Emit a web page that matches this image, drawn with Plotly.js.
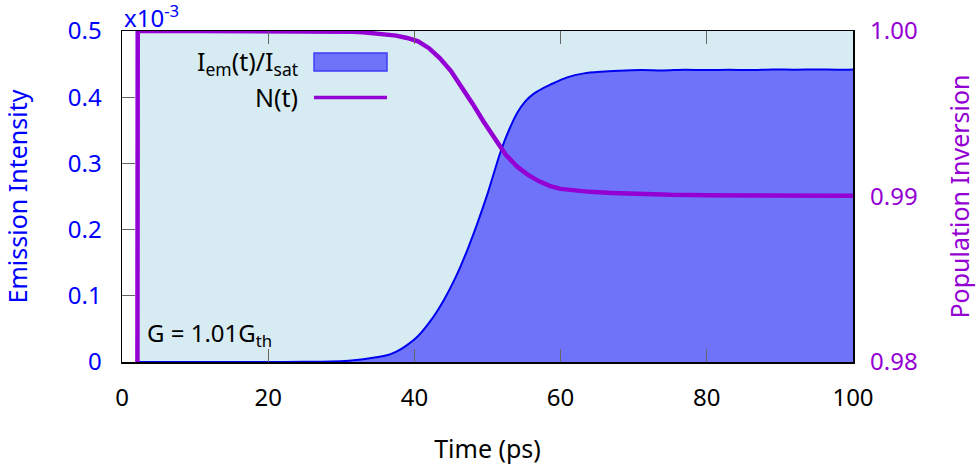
<!DOCTYPE html>
<html>
<head>
<meta charset="utf-8">
<script src="https://cdn.plot.ly/plotly-3.0.1.min.js"></script>
<style>
html,body{margin:0;padding:0;background:#fff;}
#chart{width:979px;height:471px;}
</style>
</head>
<body>
<div id="chart"></div>
<script>
// Light-blue background window (pump on), left axis units of 1e-3
const windowTime = [2.1, 100];
const windowLevel = [0.5, 0.5];

// Emission intensity I_em(t)/I_sat (x10^-3)
const timeI = [2.1, 10, 20, 25, 28.5, 31, 33, 35, 36.4, 37.6, 38.8, 40.4, 42.2, 44, 45.6, 47.2, 48.6, 50, 51.8, 53, 54.1, 55.2, 56.3, 57.5, 58.6, 60.9, 63.2, 65.5, 68, 71, 74, 77, 80, 83, 86, 89, 92, 95, 98, 100];
const intensity = [0, 0, 0.0001, 0.0003, 0.0008, 0.002, 0.004, 0.0075, 0.0106, 0.016, 0.024, 0.038, 0.062, 0.093, 0.127, 0.168, 0.209, 0.254, 0.318, 0.352, 0.377, 0.394, 0.405, 0.413, 0.419, 0.430, 0.436, 0.4385, 0.440, 0.441, 0.4405, 0.4415, 0.441, 0.4415, 0.441, 0.442, 0.4415, 0.442, 0.4415, 0.442];

// Population inversion N(t)
const timeN = [2.1, 2.15, 10, 20, 26, 28, 30, 31.5, 33, 34.5, 36, 37.5, 39, 40.5, 42, 43.5, 45, 46.5, 48, 49.5, 51, 52.5, 54, 55.5, 57, 58.5, 60, 62, 64, 67, 70, 75, 80, 90, 100];
const inversion = [0.975, 1.0, 1.0, 1.0, 0.99999, 0.99998, 0.99997, 0.99995, 0.99992, 0.99987, 0.99981, 0.99972, 0.99958, 0.99937, 0.99896, 0.99835, 0.99758, 0.99661, 0.99558, 0.9945, 0.99347, 0.99252, 0.99183, 0.99132, 0.99093, 0.99064, 0.99046, 0.99035, 0.99028, 0.99021, 0.99015, 0.9901, 0.99008, 0.99005, 0.99004];

// Axis ticks
const xTicks = [0, 20, 40, 60, 80, 100];
const yTicks = [0, 0.1, 0.2, 0.3, 0.4, 0.5];
const yTickText = ['0', '0.1', '0.2', '0.3', '0.4', '0.5'];
const y2Ticks = [0.98, 0.99, 1.00];
const y2TickText = ['0.98', '0.99', '1.00'];

const FONT = 'Noto Sans, Open Sans, sans-serif';
const BLUE = '#0000ff';
const PURPLE = '#9400d3';
const LIGHT = 'rgb(214,235,242)';
const FILL = 'rgb(110,115,250)';
const TS = 24;
const LS = 25;

const traces = [
  {x: windowTime, y: windowLevel, type: 'scatter', mode: 'lines', fill: 'tozeroy',
   fillcolor: LIGHT, line: {width: 0, color: LIGHT}, hoverinfo: 'skip', showlegend: false, yaxis: 'y'},
  {x: timeI, y: intensity, type: 'scatter', mode: 'lines', fill: 'tozeroy',
   fillcolor: FILL, line: {color: 'rgb(0,0,240)', width: 2, shape: 'spline', smoothing: 0.8}, showlegend: false, yaxis: 'y'},
  {x: timeN, y: inversion, type: 'scatter', mode: 'lines',
   line: {color: PURPLE, width: 4.5, shape: 'linear'}, showlegend: false, yaxis: 'y2'}
];

const layout = {
  width: 979, height: 471,
  margin: {l: 122, r: 126, t: 31, b: 109, pad: 0},
  paper_bgcolor: '#ffffff', plot_bgcolor: '#ffffff',
  font: {family: FONT, size: TS, color: '#000'},
  showlegend: false,
  xaxis: {
    range: [0, 100], tickvals: xTicks, ticktext: xTicks.map(String),
    ticks: 'inside', ticklen: 13, tickcolor: '#666', tickwidth: 1,
    showline: true, linecolor: '#000', linewidth: 1.5, mirror: 'ticks',
    showgrid: false, zeroline: false, ticklabelstandoff: 14,
    tickfont: {family: FONT, size: TS, color: '#000'},
    title: {text: 'Time (ps)', font: {family: FONT, size: LS, color: '#000'}, standoff: 28}
  },
  yaxis: {
    range: [0, 0.5], tickvals: yTicks, ticktext: yTickText,
    ticks: 'inside', ticklen: 13, tickcolor: '#666', tickwidth: 1,
    showline: true, linecolor: '#000', linewidth: 1.5, mirror: true,
    showgrid: false, zeroline: false, ticklabelstandoff: 14,
    tickfont: {family: FONT, size: TS, color: BLUE},
    title: {text: 'Emission Intensity', font: {family: FONT, size: LS, color: BLUE}, standoff: 36}
  },
  yaxis2: {
    range: [0.98, 1.0], overlaying: 'y', side: 'right',
    tickvals: y2Ticks, ticktext: y2TickText, ticks: '',
    showline: false, showgrid: false, zeroline: false, ticklabelstandoff: 16,
    tickfont: {family: FONT, size: TS, color: PURPLE},
    title: {text: 'Population Inversion', font: {family: FONT, size: LS, color: PURPLE}, standoff: 34}
  },
  shapes: [
    {type: 'rect', xref: 'paper', yref: 'paper', x0: 0.2627, x1: 0.3625, y0: 0.879, y1: 0.9335,
     fillcolor: FILL, line: {color: 'rgb(60,60,250)', width: 1.5}},
    {type: 'line', xref: 'paper', yref: 'paper', x0: 0.2627, x1: 0.3625, y0: 0.799, y1: 0.799,
     line: {color: PURPLE, width: 3.5}}
  ],
  annotations: [
    {xref: 'paper', yref: 'paper', x: 0.2435, y: 0.906, xanchor: 'right', yanchor: 'middle',
     text: 'I<sub>em</sub>(t)/I<sub>sat</sub>', showarrow: false, font: {family: FONT, size: LS, color: '#000'}},
    {xref: 'paper', yref: 'paper', x: 0.2435, y: 0.80, xanchor: 'right', yanchor: 'middle',
     text: 'N(t)', showarrow: false, font: {family: FONT, size: LS, color: '#000'}},
    {xref: 'paper', yref: 'paper', x: 0.0315, y: 0.085, xanchor: 'left', yanchor: 'middle',
     text: 'G = 1.01G<sub>th</sub>', showarrow: false, font: {family: FONT, size: TS, color: '#000'}},
    {xref: 'paper', yref: 'paper', x: 0, y: 1, xanchor: 'left', yanchor: 'bottom', yshift: -5,
     text: 'x10<sup>-3</sup>', showarrow: false, font: {family: FONT, size: TS, color: BLUE}}
  ]
};

Plotly.newPlot('chart', traces, layout, {displayModeBar: false, staticPlot: true});
</script>
</body>
</html>
